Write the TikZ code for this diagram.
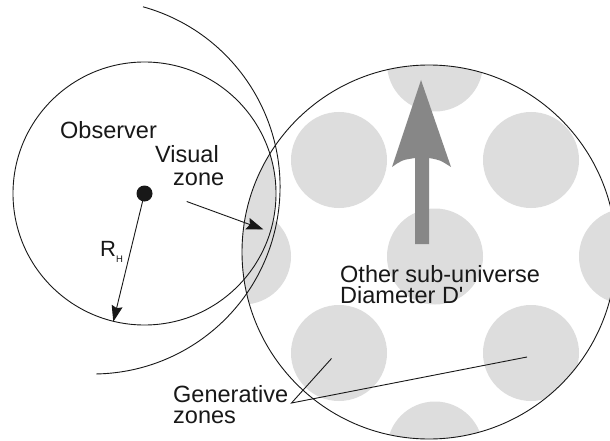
\documentclass[tikz,border=0pt]{standalone}
\usepackage{fontspec}
\setmainfont{Liberation Sans}
\usetikzlibrary{arrows.meta}
\definecolor{zonegray}{RGB}{221,221,221}
\definecolor{arrowgray}{RGB}{135,135,135}
\definecolor{ink}{RGB}{24,24,24}
\begin{document}
\begin{tikzpicture}[x=1pt,y=-1pt,
  lbl/.style={font=\fontsize{23.5}{21.5}\selectfont, inner sep=0pt, anchor=base west, text=ink},
  outline/.style={draw=ink, line width=0.9pt},
  tipA/.style={-{Stealth[length=16pt,width=11pt,inset=2pt]}},
  tipB/.style={-{Stealth[length=17pt,width=12pt,inset=2.5pt]}}
]
\useasboundingbox (0,0) rectangle (610,441);
\fill[white] (0,0) rectangle (610,441);
\coordinate (ucen) at (429,252);
\coordinate (ocen) at (144.5,193.5);
\coordinate (hcen) at (93,187);
% generative zones and visual zone (clipped to the sub-universe)
\begin{scope}
  \clip (ucen) circle [radius=187];
  \foreach \p in {(435,63.5),(339,160),(531,160),(243,256.5),(435,256.5),(627,256.5),(339,353),(531,353),(435,449.5)}
    \fill[zonegray] \p circle [radius=48];
  \fill[zonegray] (ocen) circle [radius=131.5];
\end{scope}
% big gray arrow
\fill[arrowgray] (421,80) -- (451,167) .. controls (440,160) .. (429,158) -- (429,244) -- (415,244) -- (415,158) .. controls (402,160) .. (392,167) -- cycle;
% circles
\draw[outline] (ucen) circle [radius=187];
\draw[outline] (ocen) circle [radius=131.5];
\coordinate (hstart) at (143,6.8);
\draw[outline] (hstart) arc [start angle=-74.5, end angle=89, radius=187];
% observer dot and radius
\node[circle, fill=ink, minimum size=16pt, inner sep=0pt] (obs) at (ocen) {};
\coordinate (rtip) at (113.3,321.7);
\draw[outline, tipA] (obs.center) -- (rtip);
% visual zone arrow
\coordinate (va) at (186.7,201.5);
\coordinate (vb) at (263.5,229.5);
\draw[outline, tipB] (va) -- (vb);
% generative zone leaders
\coordinate (gv) at (291.5,403);
\coordinate (g1) at (331.5,358.5);
\coordinate (g2) at (527,357);
\draw[outline] (g1) -- (gv) -- (g2);
% labels
\node[lbl] (observer) at (60,139) {Observer};
\node[lbl] (visual) at (155,162) {Visual};
\node[lbl] (zone) at (173,185) {zone};
\node[inner sep=0pt, anchor=base west, text=ink] (rh) at (100,256.7) {\fontsize{22}{22}\selectfont R\raisebox{-6pt}{\fontsize{9.5}{9.5}\selectfont H}};
\node[lbl] (other1) at (340,282) {Other sub-universe};
\node[lbl] (other2) at (340,303.5) {Diameter D\textquotesingle};
\node[lbl] (gen1) at (173,402) {Generative};
\node[lbl] (gen2) at (173,423.5) {zones};
\end{tikzpicture}
\end{document}
